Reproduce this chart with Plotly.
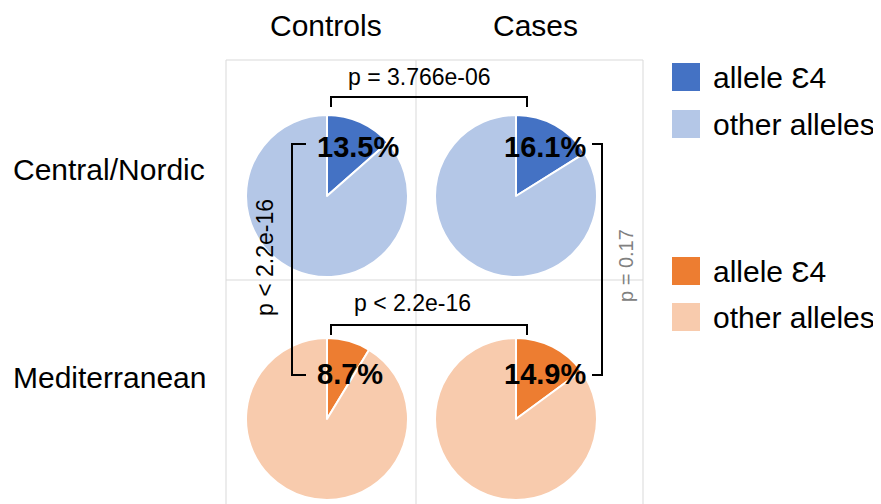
import plotly.graph_objects as go

# The page has an 8px body margin, so the figure is drawn 8px in from the top-left corner.
OFF = 8
W, H = 881, 504
FW, FH = W - OFF, H - OFF

col_labels = ["Controls", "Cases"]
row_labels = ["Central/Nordic", "Mediterranean"]
slice_labels = ["allele Ɛ4", "other alleles"]
e4_pct = [[13.5, 16.1], [8.7, 14.9]]  # rows x cols
row_colors = [["#4472C4", "#B4C7E7"], ["#ED7D31", "#F8CBAD"]]
p_horizontal = ["p = 3.766e-06", "p < 2.2e-16"]
p_vertical = ["p < 2.2e-16", "p = 0.17"]

FONT = "Liberation Sans, Arial, sans-serif"

col_cx = [327, 516]
row_cy = [196, 419]
R = 81

fig = go.Figure()

grid = "#D9D9D9"
shapes = []
for x in (226, 416, 643):
    shapes.append(dict(type="line", x0=x, x1=x, y0=60, y1=510, line=dict(color=grid, width=1), layer="below"))
for y in (60, 280):
    shapes.append(dict(type="line", x0=226, x1=643, y0=y, y1=y, line=dict(color=grid, width=1), layer="below"))

for r in range(2):
    for c in range(2):
        v = e4_pct[r][c]
        cx, cy = col_cx[c], row_cy[r]
        fig.add_trace(go.Pie(
            values=[v, 100 - v], labels=slice_labels, sort=False,
            direction="clockwise", rotation=0,
            marker=dict(colors=row_colors[r], line=dict(color="white", width=2)),
            textinfo="none", showlegend=False, hoverinfo="label+percent",
            domain=dict(x=[(cx - R - OFF) / FW, (cx + R - OFF) / FW],
                        y=[(H - cy - R) / FH, (H - cy + R) / FH]),
        ))

fig.add_trace(go.Scatter(x=[OFF, W], y=[OFF, H], mode="markers", marker=dict(opacity=0),
                         showlegend=False, hoverinfo="skip"))

ann = []
for c, t in enumerate(col_labels):
    ann.append(dict(x=[326, 535][c], y=25, text=t, showarrow=False,
                    font=dict(size=30, color="black", family=FONT), xanchor="center", yanchor="middle"))
for r, t in enumerate(row_labels):
    ann.append(dict(x=11, y=[169, 377][r], text=t, showarrow=False,
                    font=dict(size=30, color="black", family=FONT), xanchor="left", yanchor="middle"))

pct_left = [315, 502]
pct_y = [147, 374]
for r in range(2):
    for c in range(2):
        ann.append(dict(x=pct_left[c], y=pct_y[r], text="<b>%.1f%%</b>" % e4_pct[r][c], showarrow=False,
                        font=dict(size=29, color="black", family=FONT), xanchor="left", yanchor="middle"))

blk = dict(color="black", width=2)
for i, (ytop, ytxt) in enumerate([(97, 77), (325, 303)]):
    shapes.append(dict(type="path", path=f"M 331 {ytop + 10} L 331 {ytop} L 527 {ytop} L 527 {ytop + 10}", line=blk))
    ann.append(dict(x=[419, 412][i], y=ytxt, text=p_horizontal[i], showarrow=False,
                    font=dict(size=23, color="black", family=FONT), xanchor="center", yanchor="middle"))

shapes.append(dict(type="path", path="M 306 144 L 292 144 L 292 375 L 306 375", line=blk))
shapes.append(dict(type="path", path="M 592 144 L 602 144 L 602 375 L 592 375", line=blk))
ann.append(dict(x=265, y=258, text=p_vertical[0], textangle=-90, showarrow=False,
                font=dict(size=23, color="black", family=FONT), xanchor="center", yanchor="middle"))
ann.append(dict(x=626, y=266, text=p_vertical[1], textangle=-90, showarrow=False,
                font=dict(size=20, color="#808080", family=FONT), xanchor="center", yanchor="middle"))

leg_y = [[77, 124], [271, 317]]
for r in range(2):
    for k in range(2):
        y = leg_y[r][k]
        shapes.append(dict(type="rect", x0=672, x1=700, y0=y - 14, y1=y + 14,
                           fillcolor=row_colors[r][k], line=dict(width=0)))
        ann.append(dict(x=711, y=y, text=slice_labels[k], showarrow=False,
                        font=dict(size=30, color="black", family=FONT), xanchor="left", yanchor="middle"))

fig.update_layout(
    width=FW, height=FH, margin=dict(l=0, r=0, t=0, b=0),
    paper_bgcolor="white", plot_bgcolor="rgba(0,0,0,0)",
    xaxis=dict(range=[OFF, W], visible=False, fixedrange=True),
    yaxis=dict(range=[H, OFF], visible=False, fixedrange=True),
    shapes=shapes, annotations=ann, showlegend=False,
    font=dict(family=FONT),
)

fig.write_html("out.html")
